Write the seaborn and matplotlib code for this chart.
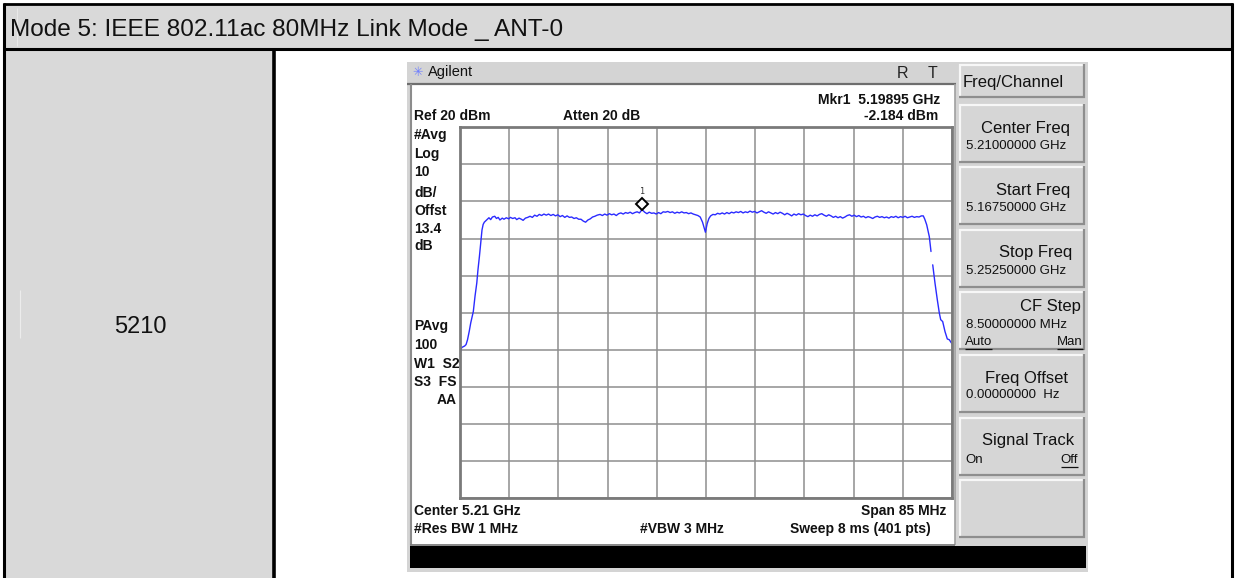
import numpy as np
import pandas as pd
import matplotlib
matplotlib.use("Agg")
import matplotlib.pyplot as plt
import matplotlib.patches as mpatches
import matplotlib.transforms as mtransforms
import seaborn as sns

# ---------------------------------------------------------------- data
header_title = "Mode 5: IEEE 802.11ac 80MHz Link Mode _ ANT-0"
channel_label = "5210"

start_mhz = 5167.5
stop_mhz = 5252.5
ref_level_dbm = 20
db_per_div = 10
n_div = 10

# measured trace: offset from start frequency (MHz) and level (dBm)
offset_mhz = [
    0.00, 0.30, 0.80, 1.05, 1.30, 1.60, 1.85, 2.10, 2.30, 2.60, 2.90, 3.10,
    3.35, 3.60, 3.80, 4.00, 4.20, 4.60, 5.00, 5.30, 5.60, 6.00, 6.30, 6.60,
    6.90, 7.30, 7.60, 8.00, 8.40, 8.70, 9.10, 9.50, 9.80, 10.2, 10.6, 10.9,
    11.3, 11.7, 12.1, 12.5, 12.9, 13.3, 13.7, 14.1, 14.5, 14.9, 15.3, 15.7,
    16.1, 16.5, 16.9, 17.3, 17.7, 18.1, 18.5, 18.9, 19.3, 19.7, 20.1, 20.5,
    20.9, 21.3, 21.7, 22.1, 22.5, 22.9, 23.3, 23.7, 24.2, 24.6, 25.0, 25.4,
    25.8, 26.2, 26.6, 27.0, 27.4, 27.8, 28.2, 28.6, 29.0, 29.4, 29.8, 30.2,
    30.6, 31.0, 31.45, 31.9, 32.3, 32.7, 33.1, 33.5, 33.9, 34.3, 34.7, 35.1,
    35.5, 35.9, 36.3, 36.7, 37.1, 37.5, 37.9, 38.3, 38.7, 39.1, 39.5, 39.9,
    40.3, 40.7, 41.1, 41.5, 41.9, 42.2, 42.4, 42.7, 43.0, 43.3, 43.7, 44.1,
    44.5, 44.9, 45.3, 45.7, 46.1, 46.5, 46.9, 47.3, 47.7, 48.1, 48.5, 48.9,
    49.3, 49.7, 50.1, 50.5, 50.9, 51.3, 51.7, 52.1, 52.5, 52.9, 53.3, 53.7,
    54.1, 54.5, 54.9, 55.3, 55.7, 56.1, 56.5, 56.9, 57.3, 57.7, 58.1, 58.5,
    58.9, 59.3, 59.7, 60.1, 60.5, 60.9, 61.3, 61.7, 62.1, 62.5, 62.9, 63.3,
    63.7, 64.1, 64.5, 64.9, 65.3, 65.7, 66.1, 66.5, 66.9, 67.3, 67.7, 68.1,
    68.5, 68.9, 69.3, 69.7, 70.1, 70.5, 70.9, 71.3, 71.7, 72.1, 72.5, 72.9,
    73.3, 73.7, 74.1, 74.5, 74.9, 75.3, 75.7, 76.1, 76.5, 76.9, 77.3, 77.7,
    78.1, 78.5, 78.9, 79.3, 79.7, 80.04, 80.3, 80.63, 81.08, 81.37,
    81.67, 82.06, 82.46, 82.81, 83.05, 83.39, 83.79, 84.19, 84.53, 85.0,
]
level_dbm = [
    -40.9, -39.4, -39.0, -38.6, -37.3, -35.0, -32.8, -31.0, -29.7, -25.5, -22.0, -18.5,
    -14.9, -11.0, -7.7, -6.2, -5.6, -5.0, -4.4, -4.9, -4.2, -4.0, -4.6, -4.3,
    -5.0, -4.5, -4.8, -4.4, -4.7, -4.3, -4.6, -4.4, -4.9, -4.5, -4.8, -5.1,
    -4.5, -4.3, -4.0, -4.3, -3.7, -4.0, -3.5, -3.8, -3.4, -3.7, -3.4, -3.8,
    -3.5, -3.9, -3.6, -4.1, -3.8, -4.3, -3.9, -4.3, -4.2, -4.6, -4.4, -4.8,
    -4.8, -5.3, -5.6, -5.0, -4.7, -4.2, -4.0, -3.7, -3.5, -3.8, -3.4, -3.7,
    -3.3, -3.6, -3.4, -3.8, -3.3, -3.1, -3.4, -3.0, -3.2, -2.9, -3.3, -3.0,
    -2.8, -3.1, -2.184, -2.9, -3.3, -2.9, -3.2, -3.1, -3.4, -3.0, -3.3, -2.8,
    -2.9, -2.7, -3.0, -2.8, -3.2, -2.9, -3.1, -2.8, -3.1, -3.0, -3.3, -3.1,
    -3.4, -3.6, -3.8, -4.2, -5.6, -7.2, -8.3, -6.0, -4.6, -3.9, -3.5, -3.6,
    -3.2, -3.4, -3.1, -3.4, -3.0, -3.3, -2.9, -3.1, -2.8, -3.0, -2.7, -3.1,
    -2.8, -3.0, -2.6, -2.9, -2.7, -3.1, -2.8, -2.5, -2.9, -3.2, -2.8, -3.1,
    -3.4, -3.0, -3.3, -2.9, -3.2, -3.6, -3.2, -3.5, -3.9, -3.4, -3.7, -3.3,
    -3.6, -3.4, -3.8, -4.1, -3.7, -4.0, -3.6, -3.9, -3.5, -3.3, -3.7, -4.0,
    -3.6, -3.9, -4.3, -4.0, -4.4, -4.1, -4.5, -4.2, -3.8, -3.6, -4.0, -3.7,
    -4.1, -3.8, -4.2, -4.0, -4.4, -4.1, -4.3, -4.6, -4.2, -4.0, -4.3, -4.1,
    -4.4, -4.2, -4.5, -4.1, -4.3, -4.0, -4.4, -4.1, -4.3, -4.0, -4.4, -4.2,
    -4.0, -4.3, -4.1, -4.2, -3.9, -3.9, -4.8, -6.3, -9.5, -13.5,
    -17.1, -22.0, -26.5, -30.1, -31.9, -32.4, -35.1, -37.1, -37.3, -38.4,
]
# the display leaves a short gap on the falling edge, so the trace is drawn in two runs
gap_offset_mhz = 81.5

marker_mhz = 5198.95
marker_dbm = -2.184

screen_annotations = {
    "mkr": "Mkr1  5.19895 GHz",
    "ref": "Ref 20 dBm",
    "atten": "Atten 20 dB",
    "mkr_level": "-2.184 dBm",
    "center": "Center 5.21 GHz",
    "span": "Span 85 MHz",
    "rbw": "#Res BW 1 MHz",
    "vbw": "#VBW 3 MHz",
    "sweep": "Sweep 8 ms (401 pts)",
}
left_column_top = ["#Avg", "Log", "10", "dB/", "Offst", "13.4", "dB"]
left_column_bottom = ["PAvg", "100", "W1  S2", "S3  FS"]

softkeys = [
    ("Center Freq", "5.21000000 GHz", None),
    ("Start Freq", "5.16750000 GHz", None),
    ("Stop Freq", "5.25250000 GHz", None),
    ("CF Step", "8.50000000 MHz", ("Auto", "Man")),
    ("Freq Offset", "0.00000000  Hz", None),
    ("Signal Track", None, ("On", "Off")),
    (None, None, None),
]

# ---------------------------------------------------------------- figure
W, H = 1235, 578
sns.set_theme(style="white")
plt.rcParams["font.family"] = ["Liberation Sans", "DejaVu Sans"]

fig = plt.figure(figsize=(W / 100, H / 100), dpi=100)
fig.patch.set_facecolor("white")

# full-page pixel canvas for the table and the instrument chrome
bg = fig.add_axes([0, 0, 1, 1])
bg.set_xlim(0, W)
bg.set_ylim(H, 0)
bg.axis("off")

def rect(x0, y0, x1, y1, fc, ec="none", lw=0, z=1):
    bg.add_patch(mpatches.Rectangle((x0, y0), x1 - x0, y1 - y0, facecolor=fc,
                                    edgecolor=ec, linewidth=lw, zorder=z))

def hline(x0, x1, y, color, lw, z=3):
    bg.plot([x0, x1], [y, y], color=color, lw=lw, zorder=z, solid_capstyle="butt")

def vline(x, y0, y1, color, lw, z=3):
    bg.plot([x, x], [y0, y1], color=color, lw=lw, zorder=z, solid_capstyle="butt")

# table cells
cell_grey = "#d9d9d9"
rect(4, 4, 1232, 49, cell_grey)
rect(4, 49, 273, H, cell_grey)
hline(3, 1233, 3.5, "black", 2.0)
hline(3, 1233, 49, "black", 2.2)
vline(4, 3, H, "black", 2.2)
vline(1232, 3, H, "black", 2.2)
vline(273.5, 49, H, "black", 2.6)
vline(17, 8, 46, "#e8e8e8", 0.8)
vline(20, 290, 338, "#ececec", 0.8)

bg.text(10, 30, header_title, fontsize=17.6, color="#111111", va="center", ha="left")
bg.text(140, 327, channel_label, fontsize=17, color="#111111", va="center", ha="center")

# instrument frame
chrome = "#d4d4d4"
rect(407, 62, 1088, 572, chrome, z=1)
rect(410, 85, 955, 544, "white", z=1.5)
hline(407, 956, 83.5, "#6e6e6e", 1.6)
vline(410.5, 84, 545, "#8c8c8c", 1.5)
vline(955, 84, 545, "#a0a0a0", 1.2)
hline(410, 955, 544.5, "#7a7a7a", 1.2)
rect(410, 546, 1086, 568, "black", z=2)

# title bar
bg.text(418, 72, "\u2733", fontsize=9, color="#6f7fff", va="center", ha="center",
        family=["DejaVu Sans"])
bg.text(428, 72, "Agilent", fontsize=10.5, color="#111111", va="center", ha="left")
bg.text(903, 73, "R", fontsize=11.5, color="#222222", va="center", ha="center")
bg.text(933, 73, "T", fontsize=11.5, color="#222222", va="center", ha="center")

# soft keys
def softkey(y0, y1, x0=959, x1=1085):
    rect(x0, y0, x1, y1, "#d6d6d6", z=2)
    hline(x0, x1, y0 + 0.8, "#f7f7f7", 1.6, z=3)
    vline(x0 + 0.8, y0, y1, "#f7f7f7", 1.6, z=3)
    hline(x0, x1, y1 - 0.8, "#8e8e8e", 1.6, z=3)
    vline(x1 - 0.8, y0, y1, "#8e8e8e", 1.6, z=3)

softkey(64, 98)
bg.text(963, 82, "Freq/Channel", fontsize=12, color="#111111", va="center", ha="left")
key_tops = [104, 166, 229, 291, 354, 417, 479]
key_h = 59
label_right = [1070, 1070, 1072, 1081, 1068, 1074, 1070]
# vertical placement inside each key: (label, value, toggle) offsets from its top
key_rows = [(24, 42, None), (24, 42, None), (24, 42, None), (15, 34, 51),
            (24, 41, None), (23, None, 43), (None, None, None)]
fig.canvas.draw()
renderer = fig.canvas.get_renderer()
for top, (label, value, toggle), xr, rows in zip(key_tops, softkeys, label_right, key_rows):
    softkey(top, top + key_h)
    if label:
        bg.text(xr, top + rows[0], label, fontsize=12, color="#111111", va="center", ha="right")
    if value:
        bg.text(966, top + rows[1], value, fontsize=9.5, color="#111111", va="center", ha="left")
    if toggle:
        ty = top + rows[2]
        t1 = bg.text(965, ty, toggle[0], fontsize=9.5, color="#111111", va="center", ha="left")
        t2 = bg.text(1083 if label == "CF Step" else 1078, ty, toggle[1], fontsize=9.5,
                     color="#111111", va="center", ha="right")
        for t in ([t1, t2] if label == "CF Step" else [t2]):
            bb = t.get_window_extent(renderer).transformed(bg.transData.inverted())
            hline(bb.x0, bb.x1, ty + 7, "#111111", 0.9, z=4)

# screen annotations (bold instrument font)
ann = dict(fontsize=10, fontweight="bold", color="#111111", va="center")
bg.text(940, 100, screen_annotations["mkr"], ha="right", **ann)
bg.text(414, 116, screen_annotations["ref"], ha="left", **ann)
bg.text(563, 116, screen_annotations["atten"], ha="left", **ann)
bg.text(938, 116, screen_annotations["mkr_level"], ha="right", **ann)
for s, y in zip(left_column_top, [135, 154, 172, 193, 211, 229, 246]):
    bg.text(414, y, s, ha="left", **ann)
for s, y in zip(left_column_bottom, [326, 345, 364, 382]):
    bg.text(414, y, s, ha="left", **ann)
bg.text(457, 400, "AA", ha="right", **ann)
bg.text(414, 511, screen_annotations["center"], ha="left", **ann)
bg.text(946, 511, screen_annotations["span"], ha="right", **ann)
bg.text(414, 529, screen_annotations["rbw"], ha="left", **ann)
bg.text(640, 529, screen_annotations["vbw"], ha="left", **ann)
bg.text(931, 529, screen_annotations["sweep"], ha="right", **ann)

# ---------------------------------------------------------------- graticule + trace
gx0, gx1, gy0, gy1 = 460, 952, 127.3, 498
ax = fig.add_axes([gx0 / W, 1 - gy1 / H, (gx1 - gx0) / W, (gy1 - gy0) / H])
ax.set_zorder(5)
ax.set_facecolor("white")
ax.set_xlim(start_mhz, stop_mhz)
bottom_dbm = ref_level_dbm - db_per_div * n_div
ax.set_ylim(bottom_dbm, ref_level_dbm)
ax.set_xticks(np.linspace(start_mhz, stop_mhz, n_div + 1))
ax.set_yticks(np.arange(bottom_dbm, ref_level_dbm + 1, db_per_div))
ax.tick_params(length=0, labelbottom=False, labelleft=False)
ax.grid(True, color="#8e8e8e", lw=1.1)
for sp in ax.spines.values():
    sp.set_color("#7a7a7a")
    sp.set_linewidth(2.0)

trace = pd.DataFrame({
    "freq": [start_mhz + o for o in offset_mhz],
    "level": level_dbm,
    "run": [0 if o < gap_offset_mhz else 1 for o in offset_mhz],
})
sns.lineplot(data=trace, x="freq", y="level", units="run", estimator=None,
             color="#2b2bff", lw=1.0, ax=ax, legend=False)
ax.set_xlabel("")
ax.set_ylabel("")

# marker 1: open diamond resting on the trace point, index above it
lift = mtransforms.offset_copy(ax.transData, fig=fig, x=0, y=3.8, units="points")
ax.plot([marker_mhz], [marker_dbm], marker="D", ms=6.5, mfc="white", mec="black",
        mew=1.4, transform=lift, clip_on=False, zorder=6)
ax.annotate("1", (marker_mhz, marker_dbm), xytext=(0, 13), textcoords="offset points",
            ha="center", va="center", fontsize=6, color="#333333",
            family=["DejaVu Sans Mono"])

fig.savefig("out.png", dpi=100)
